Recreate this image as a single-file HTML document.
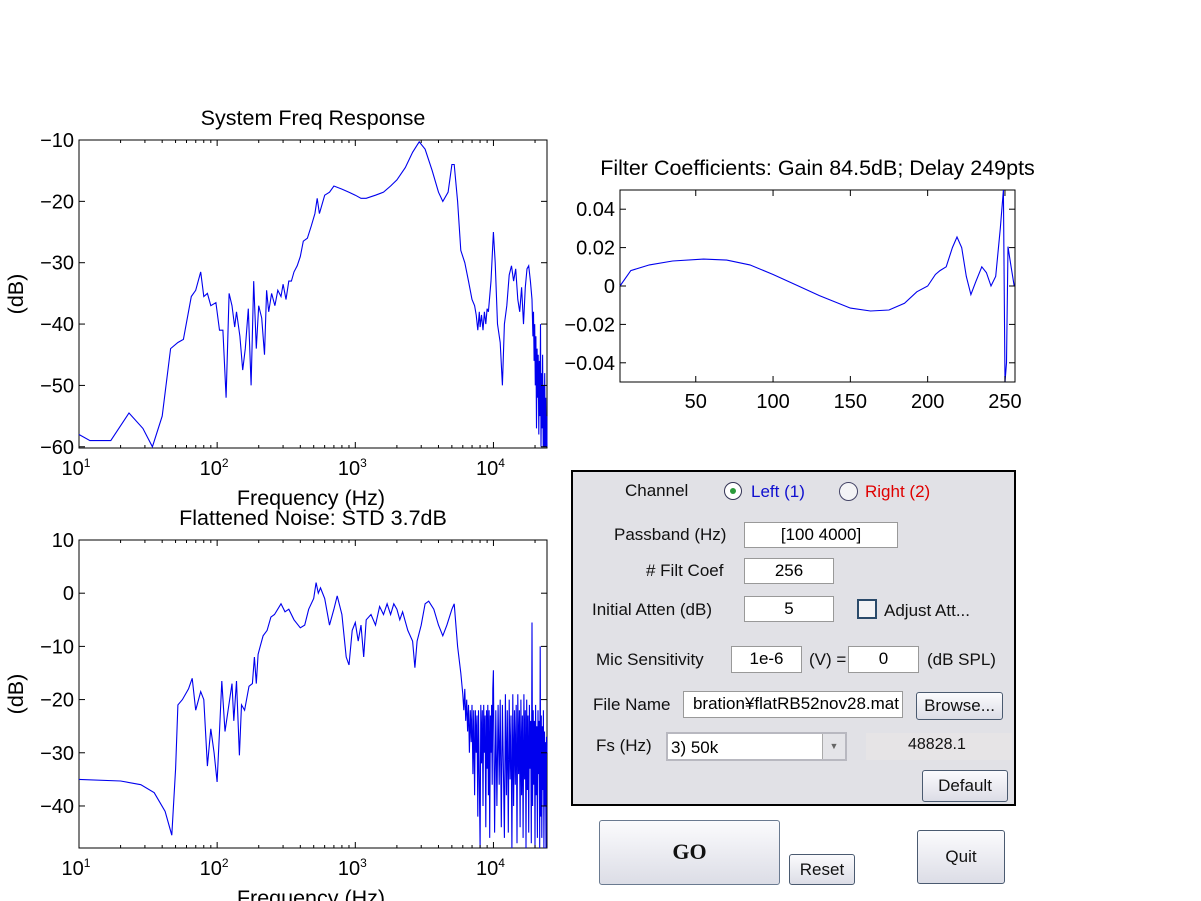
<!DOCTYPE html>
<html><head><meta charset="utf-8">
<style>
body{margin:0;background:#fff;font-family:"Liberation Sans","Noto Sans CJK JP",sans-serif;}
#root{position:relative;width:1201px;height:901px;overflow:hidden;background:#fff;}
svg text{font-family:"Liberation Sans","Noto Sans CJK JP",sans-serif;}
.abs{position:absolute;}
.lbl{position:absolute;font-size:17px;color:#111;white-space:nowrap;line-height:20px;}
.box{position:absolute;background:#fff;border:1px solid #999;box-sizing:border-box;font-size:17px;text-align:center;line-height:24px;overflow:hidden;white-space:nowrap;}
.btn{position:absolute;box-sizing:border-box;border:1px solid #4a5a70;border-radius:3px;background:linear-gradient(#fbfbfd,#dcdde6);font-size:17px;text-align:center;color:#111;}
</style></head>
<body>
<div id="root">
<svg id="plots" width="1201" height="901" style="position:absolute;left:0;top:0"></svg>

<div class="abs" style="left:571px;top:470px;width:445px;height:336px;background:#e1e1e6;border:2px solid #000;box-sizing:border-box;"></div>
<div class="lbl" style="left:625px;top:481px;">Channel</div>
<div class="abs" style="left:724px;top:482px;width:18px;height:18px;border:1px solid #335;border-radius:50%;background:#fff;box-sizing:border-box;"><div style="position:absolute;left:5px;top:5px;width:6px;height:6px;border-radius:50%;background:#2a9a3a"></div></div>
<div class="lbl" style="left:751px;top:482px;color:#1010d0;">Left (1)</div>
<div class="abs" style="left:839px;top:482px;width:19px;height:19px;border:1px solid #446;border-radius:50%;background:#f4f4f6;box-sizing:border-box;"></div>
<div class="lbl" style="left:865px;top:482px;color:#e00000;">Right (2)</div>

<div class="lbl" style="left:614px;top:525px;">Passband (Hz)</div>
<div class="box" style="left:744px;top:522px;width:154px;height:26px;">[100 4000]</div>
<div class="lbl" style="left:646px;top:561px;"># Filt Coef</div>
<div class="box" style="left:744px;top:558px;width:90px;height:26px;">256</div>
<div class="lbl" style="left:592px;top:600px;">Initial Atten (dB)</div>
<div class="box" style="left:744px;top:596px;width:90px;height:26px;">5</div>
<div class="abs" style="left:857px;top:599px;width:20px;height:20px;border:2px solid #2a4a6a;background:#f3f3f5;box-sizing:border-box;"></div>
<div class="lbl" style="left:884px;top:601px;">Adjust Att...</div>

<div class="lbl" style="left:596px;top:650px;">Mic Sensitivity</div>
<div class="box" style="left:731px;top:646px;width:71px;height:27px;">1e-6</div>
<div class="lbl" style="left:809px;top:650px;">(V) =</div>
<div class="box" style="left:848px;top:646px;width:71px;height:27px;">0</div>
<div class="lbl" style="left:927px;top:650px;">(dB SPL)</div>

<div class="lbl" style="left:593px;top:695px;">File Name</div>
<div class="box" style="left:683px;top:691px;width:220px;height:27px;text-align:right;padding-right:3px;">bration¥flatRB52nov28.mat</div>
<div class="btn" style="left:916px;top:692px;width:87px;height:28px;line-height:26px;">Browse...</div>

<div class="lbl" style="left:596px;top:736px;">Fs (Hz)</div>
<div class="box" style="left:666px;top:732px;width:181px;height:29px;text-align:left;padding-left:3px;line-height:28px;border:2px solid #b8b8c0;">3) 50k<div style="position:absolute;right:0;top:0;width:22px;height:25px;background:#e4e4e8;border-left:1px solid #aaa;font-size:9px;line-height:25px;text-align:center;color:#666">▼</div></div>
<div class="abs" style="left:866px;top:733px;width:146px;height:27px;background:#e6e4e6;"></div>
<div class="lbl" style="left:908px;top:735px;font-size:16px;">48828.1</div>
<div class="btn" style="left:922px;top:770px;width:86px;height:32px;line-height:30px;">Default</div>

<div class="btn" style="left:599px;top:820px;width:181px;height:65px;line-height:62px;font-family:'Liberation Serif',serif;font-weight:bold;font-size:22px;border-color:#6a7a90;">GO</div>
<div class="btn" style="left:789px;top:854px;width:66px;height:31px;line-height:29px;">Reset</div>
<div class="btn" style="left:917px;top:830px;width:88px;height:54px;line-height:52px;">Quit</div>
</div>

<script>
// ---- System Freq Response data ----
const sysFreq = [10,12,17,23,29,34,40,46,52,57,65,70,76,80,85,90,98,104,110,116,122,128,134,138,146,153,160,168,176,184,192,200,210,220,228,236,248,262,275,290,300,315,330,345,360,380,400,420,450,480,510,530,550,600,650,700,800,900,1000,1100,1200,1400,1600,1800,2000,2300,2600,2900,3200,3600,4000,4300,4700,5000,5200,5500,5800,6200,6600,7000,7300,7500,7700,7900,8000,8200,8400,8600,8800,9000,9200,9600,10000,10300,10700,11200,11600,12000,12500,13000,13500,14000,14500,15000,15500,16000,16500,17000,17500,18000,18500,19000,19300,19500,19700,19900,20100,20300,20500,20700,20900,21100,21300,21500,21700,21900,22100,22300,22500,22700,22900,23100,23300,23500,23700,23900,24100,24300,24400];
const sysDb = [-58,-59,-59,-54.5,-57,-60,-55,-44,-43,-42.5,-35.5,-34.5,-31.5,-35.5,-35,-37,-36.5,-41,-41,-52,-35,-37,-40.5,-38,-42,-47.5,-44,-37.5,-50,-33,-44,-37,-39,-45,-34.5,-38,-35,-37,-34.5,-35.5,-33.5,-36,-33,-33,-31.5,-30.5,-29,-26.5,-26,-24,-22,-19.5,-22,-19,-18.5,-17.5,-18,-18.5,-19,-19.5,-19.5,-19,-18.5,-17.5,-16.5,-14.5,-12,-10.3,-11.5,-15,-18.5,-20,-18.5,-14,-14,-20,-28,-30,-33,-36,-37,-38.5,-41,-38,-40.5,-38.5,-41,-38,-40,-37.5,-38,-33,-25,-30,-40,-43,-50,-40,-37,-32,-30.5,-33,-31,-36,-38,-34,-40,-34,-31,-30.5,-33,-36,-42,-38,-46,-40,-50,-42,-57,-44,-52,-45,-58,-46,-55,-40,-60,-48,-57,-45,-60,-50,-60,-48,-60,-52,-60,-55,-60];
// ---- Flattened noise data ----
const flatFreq = [10,20,28,35,42,47,50,52,56,62,66,70,76,80,85,90,95,100,104,108,114,120,128,132,138,145,150,158,170,180,186,192,198,205,215,230,245,260,290,310,330,360,400,430,460,500,520,540,560,600,650,700,740,800,860,900,950,1000,1050,1100,1150,1200,1300,1400,1500,1600,1700,1800,1900,2000,2100,2200,2400,2600,2700,2800,3000,3200,3400,3700,4000,4300,4600,5000,5200,5500,5800,6000,6100,6200,6300,6400,6500,6600,6700,6800,6900,7000,7100,7200,7300,7400,7500,7600,7700,7800,7900,8000,8100,8200,8300,8400,8500,8600,8700,8800,8900,9000,9100,9200,9300,9400,9500,9600,9700,9800,9900,10000,10100,10200,10400,10600,10800,11000,11200,11400,11600,11800,12000,12200,12400,12600,12800,13000,13200,13400,13600,13800,14000,14200,14400,14600,14800,15000,15200,15400,15600,15800,16000,16200,16400,16600,16800,17000,17200,17400,17600,17800,18000,18200,18400,18600,18800,19000,19200,19400,19600,19800,20000,20200,20400,20600,20800,21000,21200,21400,21600,21800,22000,22200,22400,22600,22800,23000,23200,23400,23600,23800,24000,24200,24400];
const flatDb = [-35,-35.3,-36,-37.5,-41,-45.5,-33,-21,-20,-18,-16,-22,-18.5,-20,-32.5,-25.5,-30,-35.5,-26,-16.5,-26,-22,-17,-24,-16.5,-30.5,-21,-22,-17.5,-17,-12,-17,-11.5,-10,-8,-7,-4.5,-4,-2,-3.5,-3,-5,-6.5,-6,-3,-1,2,0,1,-1,-6,-3,-0.5,-4,-12,-13.5,-7,-5.5,-9,-6,-12,-5,-4,-6,-2.5,-4,-2,-4,-2,-3,-5,-3.5,-7,-9,-14,-9,-6,-2,-1.5,-3,-6,-8,-6,-3,-2,-10,-15,-19,-22,-18,-24,-20,-26,-21,-30,-22,-28,-21,-34,-22,-38,-22,-30,-23,-42,-22,-35,-48,-21,-32,-22,-40,-21,-30,-23,-44,-22,-33,-21,-38,-22,-46,-23,-30,-21,-36,-18,-14.5,-30,-45,-22,-40,-21,-36,-20,-44,-21,-33,-46,-19,-38,-22,-45,-20,-35,-23,-48,-19,-40,-22,-36,-21,-47,-19,-34,-22,-44,-20,-38,-23,-46,-19,-35,-22,-48,-20,-37,-23,-45,-21,-33,-24,-47,-5.5,-40,-22,-36,-24,-48,-21,-38,-25,-46,-22,-34,-24,-48,-10,-42,-23,-46,-25,-37,-22,-48,-26,-40,-28,-48,-27,-30];
// ---- Filter coefficients ----
const coefIdx = [1,8,20,35,55,70,85,100,115,130,150,163,175,185,193,200,205,208,212,216,219,222,225,228,231,235,238,241,244,247,249,250,251,252,253,254,256];
const coefVal = [0,0.008,0.011,0.013,0.014,0.0135,0.011,0.006,0.0005,-0.005,-0.0115,-0.013,-0.0125,-0.009,-0.003,0,0.006,0.008,0.01,0.02,0.0255,0.02,0.005,-0.0045,0.002,0.01,0.007,0,0.005,0.03,0.05,-0.05,-0.04,0.0205,0.015,0.01,0];
const sysYTicks = [-10,-20,-30,-40,-50,-60];
const flatYTicks = [10,0,-10,-20,-30,-40];
const coefYTicks = [0.04,0.02,0,-0.02,-0.04];
const coefYLabels = ['0.04','0.02','0','\u22120.02','\u22120.04'];
const coefXTicks = [50,100,150,200,250];
const decades = [1,2,3,4];

const NS='http://www.w3.org/2000/svg';
const svg=document.getElementById('plots');
function mk(tag,attrs,parent){const e=document.createElementNS(NS,tag);for(const k in attrs)e.setAttribute(k,attrs[k]);(parent||svg).appendChild(e);return e;}
function txt(s,x,y,size,anchor,parent){const t=mk('text',{x:x,y:y,'font-size':size,'text-anchor':anchor||'middle',fill:'#000'},parent);t.textContent=s;return t;}

function axes(name,L,T,R,B,xmin,xmax,ymin,ymax,logx){
  const g=mk('g',{});
  
  
  const sx=v=>logx? L+(Math.log10(v)-Math.log10(xmin))/(Math.log10(xmax)-Math.log10(xmin))*(R-L) : L+(v-xmin)/(xmax-xmin)*(R-L);
  const sy=v=>B-(v-ymin)/(ymax-ymin)*(B-T);
  return {g,sx,sy,L,T,R,B};
}
function frame(a){
  const r=mk('rect',{x:a.L,y:a.T,width:a.R-a.L,height:a.B-a.T,fill:'#fff',stroke:'#000','stroke-width':1},a.g);
  
  
}
function line(a,xs,ys,name){
  const d=xs.map((x,i)=>(i?'L':'M')+a.sx(x).toFixed(1)+','+Math.max(a.T,Math.min(a.B,a.sy(ys[i]))).toFixed(1)).join('');
  const p=mk('path',{d:d,fill:'none',stroke:'#0000ee','stroke-width':1.1},a.g);
  
  
}
function logXAxis(a,xmax){
  decades.forEach(k=>{
    for(let m=1;m<10;m++){const f=m*Math.pow(10,k);if(f>xmax)break;const x=a.sx(f);const len=m==1?6:3;
      mk('line',{x1:x,y1:a.B,x2:x,y2:a.B-len,stroke:'#000'},a.g);mk('line',{x1:x,y1:a.T,x2:x,y2:a.T+len,stroke:'#000'},a.g);}
    const x=a.sx(Math.pow(10,k));
    const t=mk('text',{x:x-3,y:a.B+27,'font-size':20,'text-anchor':'middle'},a.g);
    
    
    t.textContent='10';
    const s=mk('tspan',{dy:-8,'font-size':12},t);s.textContent=String(k);
  });
}
function yAxis(a,ticks,labels){
  ticks.forEach((v,i)=>{const y=a.sy(v);
    mk('line',{x1:a.L,y1:y,x2:a.L+6,y2:y,stroke:'#000'},a.g);mk('line',{x1:a.R,y1:y,x2:a.R-6,y2:y,stroke:'#000'},a.g);
    const t=txt(labels?labels[i]:String(v).replace('-','\u2212'),a.L-5,y+7,20,'end',a.g);
    
    
  });
}
function titles(a,title,xl,yl){
  const t=txt(title,(a.L+a.R)/2,a.T-15,21.5,'middle',a.g);
  
  
  if(xl){const x=txt(xl,(a.L+a.R)/2-2,a.B+57,21.5,'middle',a.g);
    
    }
  if(yl){const y=txt(yl,0,0,21.5,'middle',a.g);y.setAttribute('transform','translate('+(a.L-56)+','+((a.T+a.B)/2)+') rotate(-90)');
    
    }
}

// System freq response
const A=axes('system-freq-response-chart',79,140,547,448,10,24414,-60.2,-10,true);
frame(A);line(A,sysFreq,sysDb,'system-response-line');logXAxis(A,24414);yAxis(A,sysYTicks);
titles(A,'System Freq Response','Frequency (Hz)','(dB)');

// Flattened noise
const Bx=axes('flattened-noise-chart',79,540,547,848,10,24414,-47.9,10,true);
frame(Bx);line(Bx,flatFreq,flatDb,'flattened-noise-line');logXAxis(Bx,24414);yAxis(Bx,flatYTicks);
titles(Bx,'Flattened Noise: STD 3.7dB','Frequency (Hz)','(dB)');

// Filter coefficients
const C=axes('filter-coefficients-chart',620,190,1015,382,1,256.5,-0.05,0.05,false);
frame(C);line(C,coefIdx,coefVal,'filter-coef-line');yAxis(C,coefYTicks,coefYLabels);
coefXTicks.forEach(v=>{const x=C.sx(v);mk('line',{x1:x,y1:C.B,x2:x,y2:C.B-6,stroke:'#000'},C.g);mk('line',{x1:x,y1:C.T,x2:x,y2:C.T+6,stroke:'#000'},C.g);
  const t=txt(String(v),x,C.B+26,20,'middle',C.g);
  
  });
titles(C,'Filter Coefficients: Gain 84.5dB; Delay 249pts');
</script>
</body></html>
